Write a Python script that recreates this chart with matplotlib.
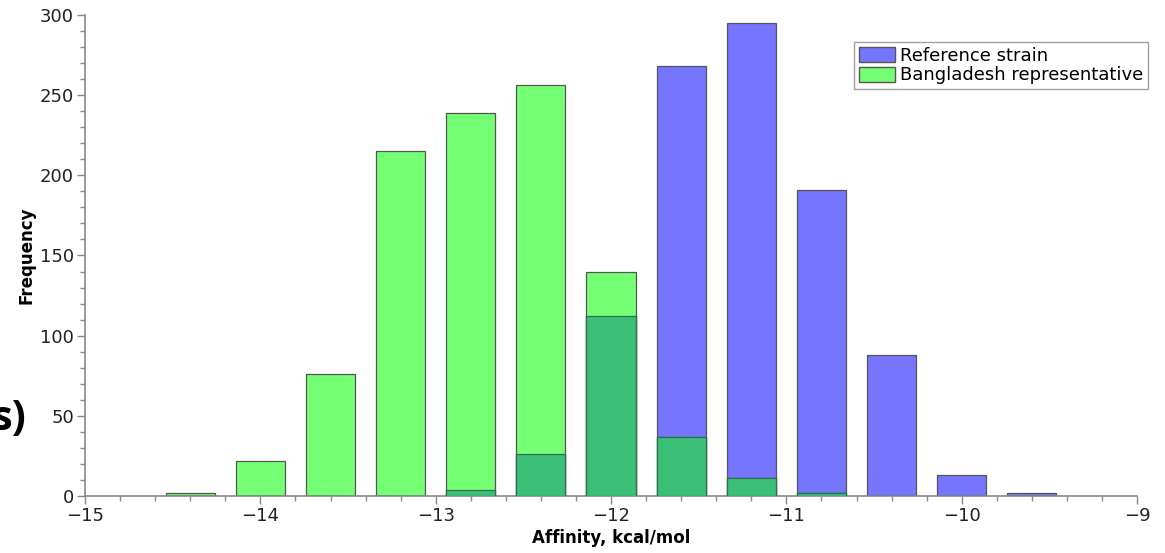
import numpy as np
import matplotlib.pyplot as plt
from matplotlib.patches import Patch
from matplotlib.ticker import MultipleLocator

# binned docking affinities (bin centres, kcal/mol)
centers = [-14.4, -14.0, -13.6, -13.2, -12.8, -12.4, -12.0, -11.6, -11.2, -10.8, -10.4, -10.0, -9.6]
reference = [0, 0, 0, 0, 4, 26, 112, 268, 295, 191, 88, 13, 2]
bangladesh = [2, 22, 76, 215, 239, 256, 140, 37, 11, 2, 0, 0, 0]

blue = '#7575ff'
green = '#75ff75'
both = '#3bbf76'
width = 0.28

fig = plt.figure(figsize=(11.65, 5.53), dpi=100)
ax = fig.add_axes([0.073, 0.103, 0.903, 0.870])

ref = np.array(reference)
ban = np.array(bangladesh)
overlap = np.minimum(ref, ban)

ax.bar(centers, ref, width=width, color=blue, edgecolor='#555555', linewidth=0.9, zorder=2)
ax.bar(centers, ban, width=width, color=green, edgecolor='#555555', linewidth=0.9, zorder=2)
ax.bar(centers, overlap, width=width, color=both, edgecolor='#2f6f4f', linewidth=0.9, zorder=3)

ax.set_xlim(-15, -9)
ax.set_ylim(0, 300)
ax.xaxis.set_major_locator(MultipleLocator(1))
ax.xaxis.set_minor_locator(MultipleLocator(0.2))
ax.yaxis.set_major_locator(MultipleLocator(50))
ax.yaxis.set_minor_locator(MultipleLocator(10))

for s in ['top', 'right']:
    ax.spines[s].set_visible(False)
for s in ['left', 'bottom']:
    ax.spines[s].set_color('#888888')
    ax.spines[s].set_linewidth(1.2)
ax.tick_params(which='major', length=6, width=1, color='#888888', labelsize=13,
               labelcolor='#222222', pad=2)
ax.tick_params(which='minor', length=3.5, width=1, color='#888888')

ax.set_xlabel('Affinity, kcal/mol', fontsize=12, fontweight='bold', labelpad=3)
ax.set_ylabel('Frequency', fontsize=12, fontweight='bold', labelpad=3)

handles = [Patch(facecolor=blue, edgecolor='#555555', label='Reference strain'),
           Patch(facecolor=green, edgecolor='#555555', label='Bangladesh representative')]
leg = fig.legend(handles=handles, loc='upper right', bbox_to_anchor=(1148 / 1165, 1 - 42 / 553),
                 fontsize=13, frameon=True, fancybox=False, borderpad=0.25,
                 handlelength=2.0, handleheight=0.9, handletextpad=0.3, labelspacing=0.1,
                 borderaxespad=0)
leg.get_frame().set_edgecolor('#888888')
leg.get_frame().set_linewidth(1.0)

fig.text(26 / 1165, 1 - 420 / 553, 's)', ha='right', va='center', fontsize=30,
         fontweight='bold', family='Open Sans')

fig.savefig('out.png', dpi=100)
